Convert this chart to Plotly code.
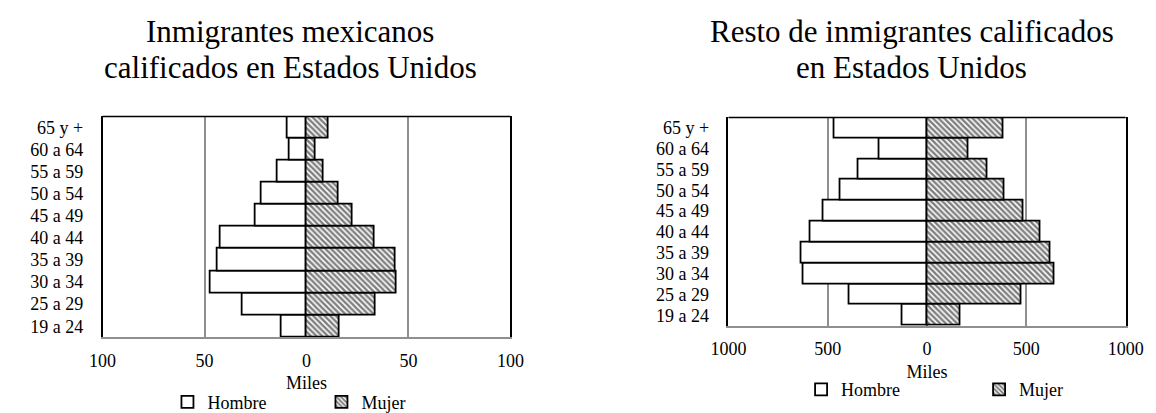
import plotly.graph_objects as go

categories = ["19 a 24", "25 a 29", "30 a 34", "35 a 39", "40 a 44",
              "45 a 49", "50 a 54", "55 a 59", "60 a 64", "65 y +"]
mex_hombre = [12.2, 31.2, 46.9, 43.6, 42.1, 24.8, 22.2, 14.2, 8.2, 9.5]
mex_mujer = [16.3, 33.8, 44.1, 43.8, 33.3, 22.7, 15.9, 8.6, 4.4, 10.6]
resto_hombre = [125, 389, 624, 631, 585, 520, 438, 346, 238, 467]
resto_mujer = [168, 476, 643, 620, 573, 485, 388, 306, 210, 386]

mex_ticks = [-100, -50, 0, 50, 100]
mex_ticktext = ["100", "50", "0", "50", "100"]
resto_ticks = [-1000, -500, 0, 500, 1000]
resto_ticktext = ["1000", "500", "0", "500", "1000"]

title_left = ["Inmigrantes mexicanos", "calificados en Estados Unidos"]
title_right = ["Resto de inmigrantes calificados", "en Estados Unidos"]

FONT = "Liberation Serif"
W, H = 1156, 413
GRID = "#8f8f8f"

def px_x(v):
    return v / W

def px_y(v):
    return 1 - v / H

hatch = dict(shape="\\", fgcolor="black", bgcolor="white", size=4, solidity=0.62)
outline = dict(color="black", width=1.8)

fig = go.Figure()
fig.add_trace(go.Bar(y=categories, x=[-v for v in mex_hombre], orientation="h",
                     name="Hombre", marker=dict(color="white", line=outline),
                     xaxis="x", yaxis="y", legend="legend",
                     customdata=mex_hombre, hovertemplate="%{y}: %{customdata}<extra>Hombre</extra>"))
fig.add_trace(go.Bar(y=categories, x=mex_mujer, orientation="h",
                     name="Mujer", marker=dict(color="white", line=outline, pattern=hatch),
                     xaxis="x", yaxis="y", legend="legend"))
fig.add_trace(go.Bar(y=categories, x=[-v for v in resto_hombre], orientation="h",
                     name="Hombre", marker=dict(color="white", line=outline),
                     xaxis="x2", yaxis="y2", legend="legend2",
                     customdata=resto_hombre, hovertemplate="%{y}: %{customdata}<extra>Hombre</extra>"))
fig.add_trace(go.Bar(y=categories, x=resto_mujer, orientation="h",
                     name="Mujer", marker=dict(color="white", line=outline, pattern=hatch),
                     xaxis="x2", yaxis="y2", legend="legend2"))

tickfont = dict(family=FONT, size=18, color="black")

def xaxis(domain, anchor, rng, tv, tt):
    return dict(domain=domain, anchor=anchor, range=rng, tickmode="array",
                tickvals=tv, ticktext=tt,
                showgrid=True, gridcolor=GRID, gridwidth=1.5, zeroline=True,
                zerolinecolor=GRID, zerolinewidth=1.5, showline=True, linecolor=GRID,
                linewidth=1.5, ticks="", tickfont=tickfont, ticklabelstandoff=6,
                title=dict(text="Miles", font=tickfont, standoff=7), fixedrange=True)

def yaxis(domain, anchor):
    return dict(domain=domain, anchor=anchor, showline=True, linecolor="black",
                linewidth=1.5, mirror=True, ticks="", tickfont=tickfont,
                tickmode="array", tickvals=categories, ticktext=categories,
                categoryorder="array", categoryarray=categories,
                ticklabelstandoff=14, showgrid=False, fixedrange=True)

fig.update_layout(
    width=W, height=H,
    margin=dict(l=0, r=0, t=0, b=0),
    paper_bgcolor="white", plot_bgcolor="white",
    barmode="relative", bargap=0,
    font=dict(family=FONT, color="black"),
    xaxis=xaxis([px_x(79), px_x(500)], "y", [-100, 100], mex_ticks, mex_ticktext),
    yaxis=yaxis([px_y(340), px_y(112)], "x"),
    xaxis2=xaxis([px_x(725), px_x(1135)], "y2", [-1000, 1000], resto_ticks, resto_ticktext),
    yaxis2=yaxis([px_y(328), px_y(113)], "x2"),
    legend=dict(orientation="h", x=px_x(146), y=px_y(407), xanchor="left", yanchor="middle",
                entrywidth=109, font=tickfont, bgcolor="rgba(0,0,0,0)", itemwidth=30,
                traceorder="normal"),
    legend2=dict(orientation="h", x=px_x(800), y=px_y(394), xanchor="left", yanchor="middle",
                 entrywidth=133, font=tickfont, bgcolor="rgba(0,0,0,0)", itemwidth=30,
                 traceorder="normal"),
    showlegend=True,
)

# top border of each plot box in black
for xr, yr in (("x domain", "y domain"), ("x2 domain", "y2 domain")):
    fig.add_shape(type="line", xref=xr, yref=yr, x0=0, x1=1, y0=1, y1=1,
                  line=dict(color="black", width=1.5))

titlefont = dict(family=FONT, size=31, color="black")
for cx, lines in ((273, title_left), (914, title_right)):
    for i, line in enumerate(lines):
        fig.add_annotation(text=line, xref="paper", yref="paper", x=px_x(cx),
                           y=px_y(24 + 37 * i), xanchor="center", yanchor="middle",
                           showarrow=False, font=titlefont)

fig.write_html("out.html")
